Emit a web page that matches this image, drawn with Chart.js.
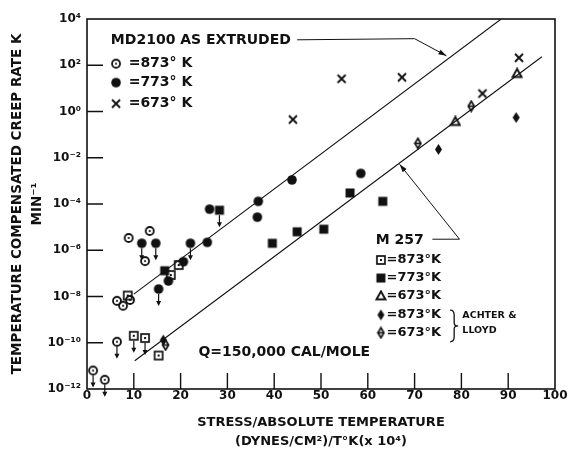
<!DOCTYPE html>
<html>
<head>
<meta charset="utf-8">
<script src="https://cdn.jsdelivr.net/npm/chart.js@4.4.1/dist/chart.umd.min.js"></script>
<style>
  html, body { margin: 0; padding: 0; background: #fff; }
  #wrap { width: 568px; height: 451px; }
</style>
</head>
<body>
<div id="wrap"><canvas id="creep" width="568" height="451"></canvas></div>
<script>
// MD2100 as extruded
const md873X = [8.9, 13.4, 12.4, 6.4, 7.7, 9.2, 6.4, 1.3, 3.8];
const md873Y = [3.4e-6, 6.8e-6, 3.4e-7, 6.5e-9, 4.0e-9, 7.1e-9, 1.1e-10, 6.3e-12, 2.5e-12];
const md873Upper = [false, false, false, false, false, false, true, true, true];

const md773X = [11.7, 14.7, 22.1, 15.3, 17.4, 20.6, 25.7, 26.2, 36.6, 36.4, 43.8, 58.5];
const md773Y = [2.0e-6, 2.0e-6, 2.0e-6, 2.1e-8, 4.7e-8, 3.2e-7, 2.2e-6, 6.0e-5, 1.3e-4, 2.7e-5, 1.1e-3, 2.1e-3];
const md773Upper = [true, true, true, true, false, false, false, false, false, false, false, false];

const md673X = [44.0, 54.4, 67.3, 84.5, 92.3];
const md673Y = [0.45, 26, 30, 6.0, 210];

// M 257
const m873X = [8.7, 10.0, 12.4, 15.3, 17.9, 19.6];
const m873Y = [1.1e-8, 2.0e-10, 1.6e-10, 2.8e-11, 8.5e-8, 2.3e-7];
const m873Upper = [false, true, true, false, false, false];

const m773X = [16.6, 28.3, 39.6, 44.9, 50.6, 56.2, 63.2];
const m773Y = [1.3e-7, 5.4e-5, 2.0e-6, 6.3e-6, 8.1e-6, 3.0e-4, 1.3e-4];
const m773Upper = [false, true, false, false, false, false, false];

const m673X = [78.7, 91.9];
const m673Y = [0.37, 44];

// Achter & Lloyd
const al873X = [16.3, 75.1, 91.7];
const al873Y = [1.3e-10, 0.023, 0.55];
const al673X = [16.8, 70.7, 82.1];
const al673Y = [8.0e-11, 0.042, 1.7];

// fitted lines, Q = 150,000 cal/mole
const mdFitX = [10, 88.5];
const mdFitY = [1.26e-8, 1.0e4];
const mFitX = [10.2, 97.2];
const mFitY = [1.66e-11, 234];

// axes
const xTickVals = [0, 10, 20, 30, 40, 50, 60, 70, 80, 90, 100];
const yTickVals = [1e4, 1e2, 1e0, 1e-2, 1e-4, 1e-6, 1e-8, 1e-10, 1e-12];
const yTickLabels = ['10⁴', '10²', '10⁰', '10⁻²', '10⁻⁴', '10⁻⁶', '10⁻⁸', '10⁻¹⁰', '10⁻¹²'];

const INK = '#111';
const FONT = "'DejaVu Sans', sans-serif";

const zip = (xs, ys) => xs.map((x, i) => ({ x: x, y: ys[i] }));

// Marker glyphs drawn once on small canvases, used as point styles and in the key
function marker(w, h, draw) {
    const c = document.createElement('canvas');
    c.width = w;
    c.height = h;
    const g = c.getContext('2d');
    g.strokeStyle = INK;
    g.fillStyle = INK;
    draw(g, w / 2, h / 2);
    return c;
}

const markers = {
    dotCircle: marker(12, 12, (g, cx, cy) => {
        g.lineWidth = 1.8;
        g.beginPath(); g.arc(cx, cy, 4, 0, Math.PI * 2); g.stroke();
        g.beginPath(); g.arc(cx, cy, 1.1, 0, Math.PI * 2); g.fill();
    }),
    disc: marker(12, 12, (g, cx, cy) => {
        g.beginPath(); g.arc(cx, cy, 4.8, 0, Math.PI * 2); g.fill();
    }),
    cross: marker(12, 12, (g, cx, cy) => {
        g.lineWidth = 1.9;
        g.beginPath();
        g.moveTo(cx - 4, cy - 4); g.lineTo(cx + 4, cy + 4);
        g.moveTo(cx + 4, cy - 4); g.lineTo(cx - 4, cy + 4);
        g.stroke();
    }),
    dotSquare: marker(12, 12, (g, cx, cy) => {
        g.lineWidth = 1.7;
        g.strokeRect(cx - 4, cy - 4, 8, 8);
        g.fillRect(cx - 1, cy - 1, 2, 2);
    }),
    block: marker(12, 12, (g, cx, cy) => {
        g.fillRect(cx - 4.5, cy - 4.5, 9, 9);
    }),
    tri: marker(12, 12, (g, cx, cy) => {
        g.lineWidth = 1.9;
        g.beginPath();
        g.moveTo(cx, cy - 4.5); g.lineTo(cx + 4.5, cy + 3.5); g.lineTo(cx - 4.5, cy + 3.5);
        g.closePath(); g.stroke();
    }),
    diamond: marker(9, 13, (g, cx, cy) => {
        g.beginPath();
        g.moveTo(cx, cy - 5.5); g.lineTo(cx + 3.5, cy); g.lineTo(cx, cy + 5.5); g.lineTo(cx - 3.5, cy);
        g.closePath(); g.fill();
    }),
    diamondBar: marker(9, 13, (g, cx, cy) => {
        g.lineWidth = 1.7;
        g.beginPath();
        g.moveTo(cx, cy - 5); g.lineTo(cx + 3, cy); g.lineTo(cx, cy + 5); g.lineTo(cx - 3, cy);
        g.closePath(); g.stroke();
        g.fillRect(cx - 2.5, cy - 0.8, 5, 1.6);
    })
};

function pts(label, xs, ys, style, upper) {
    return {
        label: label,
        data: zip(xs, ys),
        pointStyle: markers[style],
        pointRadius: 5,
        pointHoverRadius: 5,
        showLine: false,
        upper: upper || null
    };
}

function fit(label, xs, ys) {
    return {
        label: label,
        data: zip(xs, ys),
        showLine: true,
        borderColor: INK,
        borderWidth: 1.1,
        pointRadius: 0,
        fill: false
    };
}

// key text and leader lines, placed in data coordinates
const notes = [
    { text: 'MD2100 AS EXTRUDED', x: 5.1, y: 1.15e3, size: 14 },
    { text: '=873° K', x: 8.9, y: 117, size: 14, mark: 'dotCircle', mx: 6.2 },
    { text: '=773° K', x: 8.9, y: 17.8, size: 14, mark: 'disc', mx: 6.2 },
    { text: '=673° K', x: 8.9, y: 2.19, size: 14, mark: 'cross', mx: 6.2 },
    { text: 'Q=150,000 CAL/MOLE', x: 23.8, y: 3.7e-11, size: 14 },
    { text: 'M 257', x: 61.7, y: 2.75e-6, size: 14 },
    { text: '=873°K', x: 64.0, y: 3.8e-7, size: 13, mark: 'dotSquare', mx: 62.8 },
    { text: '=773°K', x: 64.0, y: 6.3e-8, size: 13, mark: 'block', mx: 62.8 },
    { text: '=673°K', x: 64.0, y: 1.07e-8, size: 13, mark: 'tri', mx: 62.8 },
    { text: '=873°K', x: 64.0, y: 1.6e-9, size: 13, mark: 'diamond', mx: 62.8 },
    { text: '=673°K', x: 64.0, y: 2.7e-10, size: 13, mark: 'diamondBar', mx: 62.8 },
    { text: 'ACHTER &', x: 80.2, y: 1.45e-9, size: 9.5 },
    { text: 'LLOYD', x: 80.2, y: 3.3e-10, size: 9.5 }
];
const leaders = [
    [[44.9, 1.26e3], [70.0, 1.41e3], [76.8, 257]],
    [[73.8, 3.0e-6], [79.6, 3.0e-6], [66.8, 5.2e-3]]
];
const brace = { x: 77.6, top: 2.6e-9, bottom: 1.1e-10 };

function arrowHead(ctx, x0, y0, x1, y1, len, half) {
    const a = Math.atan2(y1 - y0, x1 - x0);
    ctx.beginPath();
    ctx.moveTo(x1, y1);
    ctx.lineTo(x1 - len * Math.cos(a) + half * Math.sin(a), y1 - len * Math.sin(a) - half * Math.cos(a));
    ctx.lineTo(x1 - len * Math.cos(a) - half * Math.sin(a), y1 - len * Math.sin(a) + half * Math.cos(a));
    ctx.closePath();
    ctx.fill();
}

// Frame, inward ticks, "less than" arrows, key and leaders
const decorations = {
    id: 'decorations',
    afterDatasetsDraw(chart) {
        const { ctx, chartArea: a, scales } = chart;
        const px = (x, y) => [scales.x.getPixelForValue(x), scales.y.getPixelForValue(y)];
        ctx.save();
        ctx.strokeStyle = INK;
        ctx.fillStyle = INK;

        ctx.lineWidth = 1.6;
        ctx.strokeRect(a.left, a.top, a.right - a.left, a.bottom - a.top);

        ctx.lineWidth = 1.4;
        ctx.beginPath();
        yTickVals.slice(1, -1).forEach(v => {
            const y = scales.y.getPixelForValue(v);
            ctx.moveTo(a.left, y); ctx.lineTo(a.left + 16, y);
        });
        xTickVals.slice(1, -1).forEach(v => {
            const x = scales.x.getPixelForValue(v);
            ctx.moveTo(x, a.bottom); ctx.lineTo(x, a.bottom - 16);
        });
        ctx.stroke();

        // upper-limit arrows below flagged points
        chart.data.datasets.forEach((ds, i) => {
            if (!ds.upper) return;
            chart.getDatasetMeta(i).data.forEach((el, j) => {
                if (!ds.upper[j]) return;
                ctx.lineWidth = 1.2;
                ctx.beginPath();
                ctx.moveTo(el.x, el.y + 5); ctx.lineTo(el.x, el.y + 15);
                ctx.stroke();
                arrowHead(ctx, el.x, el.y + 5, el.x, el.y + 17, 5, 2.5);
            });
        });

        // leaders pointing at the fitted lines
        ctx.lineWidth = 1;
        leaders.forEach(path => {
            const p = path.map(q => px(q[0], q[1]));
            ctx.beginPath();
            ctx.moveTo(p[0][0], p[0][1]);
            p.slice(1).forEach(q => ctx.lineTo(q[0], q[1]));
            ctx.stroke();
            const n = p.length;
            arrowHead(ctx, p[n - 2][0], p[n - 2][1], p[n - 1][0], p[n - 1][1], 8, 2.5);
        });

        ctx.textBaseline = 'middle';
        ctx.textAlign = 'left';
        notes.forEach(n => {
            const [x, y] = px(n.x, n.y);
            ctx.font = 'bold ' + n.size + 'px ' + FONT;
            ctx.fillText(n.text, x, y);
            if (n.mark) {
                const m = markers[n.mark];
                const [mx] = px(n.mx, n.y);
                ctx.drawImage(m, mx - m.width / 2, y - m.height / 2);
            }
        });

        // brace grouping the Achter & Lloyd entries
        const [bx, bt] = px(brace.x, brace.top);
        const [, bb] = px(brace.x, brace.bottom);
        const bm = (bt + bb) / 2;
        ctx.lineWidth = 1.3;
        ctx.beginPath();
        ctx.moveTo(bx, bt);
        ctx.quadraticCurveTo(bx + 4, bt, bx + 4, bt + 5);
        ctx.lineTo(bx + 4, bm - 3);
        ctx.quadraticCurveTo(bx + 4, bm, bx + 8, bm);
        ctx.quadraticCurveTo(bx + 4, bm, bx + 4, bm + 3);
        ctx.lineTo(bx + 4, bb - 5);
        ctx.quadraticCurveTo(bx + 4, bb, bx, bb);
        ctx.stroke();

        ctx.restore();
    }
};

new Chart(document.getElementById('creep'), {
    type: 'scatter',
    data: {
        datasets: [
            fit('MD2100 fit', mdFitX, mdFitY),
            fit('M 257 fit', mFitX, mFitY),
            pts('MD2100 873°K', md873X, md873Y, 'dotCircle', md873Upper),
            pts('MD2100 773°K', md773X, md773Y, 'disc', md773Upper),
            pts('MD2100 673°K', md673X, md673Y, 'cross'),
            pts('M 257 873°K', m873X, m873Y, 'dotSquare', m873Upper),
            pts('M 257 773°K', m773X, m773Y, 'block', m773Upper),
            pts('M 257 673°K', m673X, m673Y, 'tri'),
            pts('Achter & Lloyd 873°K', al873X, al873Y, 'diamond'),
            pts('Achter & Lloyd 673°K', al673X, al673Y, 'diamondBar')
        ]
    },
    options: {
        responsive: false,
        animation: false,
        layout: { padding: { left: 0, top: 19, right: 13, bottom: 0 } },
        plugins: {
            legend: { display: false },
            tooltip: { enabled: false }
        },
        scales: {
            x: {
                type: 'linear',
                min: 0,
                max: 100,
                afterBuildTicks: s => { s.ticks = xTickVals.map(v => ({ value: v })); },
                afterFit: s => { s.height = 62; },
                grid: { display: false, drawTicks: false },
                border: { display: false },
                ticks: {
                    color: INK,
                    padding: 0,
                    maxRotation: 0,
                    font: { family: FONT, size: 12, weight: 'bold' }
                },
                title: {
                    display: true,
                    text: ['STRESS/ABSOLUTE TEMPERATURE', '(DYNES/CM²)/T°K(x 10⁴)'],
                    color: INK,
                    font: { family: FONT, size: 13, weight: 'bold', lineHeight: '19px' },
                    padding: { top: 0, bottom: 0 }
                }
            },
            y: {
                type: 'logarithmic',
                min: 1e-12,
                max: 1e4,
                afterBuildTicks: s => { s.ticks = yTickVals.map(v => ({ value: v })); },
                afterFit: s => { s.width = 87; },
                grid: { display: false, drawTicks: false },
                border: { display: false },
                ticks: {
                    color: INK,
                    padding: 6,
                    font: { family: FONT, size: 12, weight: 'bold' },
                    callback: (v, i) => yTickLabels[i]
                },
                title: {
                    display: true,
                    text: ['TEMPERATURE COMPENSATED CREEP RATE K', 'MIN⁻¹'],
                    color: INK,
                    font: { family: FONT, size: 13.5, weight: 'bold', lineHeight: '20px' },
                    padding: { top: 7, bottom: 0 }
                }
            }
        }
    },
    plugins: [decorations]
});
</script>
</body>
</html>
